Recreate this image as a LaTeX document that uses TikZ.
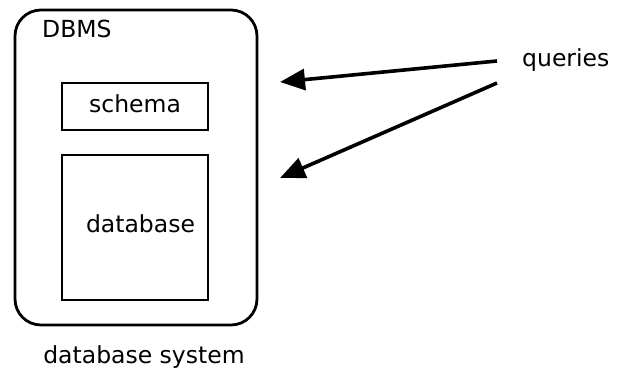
\documentclass[tikz,border=0pt]{standalone}
\usepackage{fontspec}
\setmainfont{DejaVu Sans}
\usetikzlibrary{arrows.meta}

\begin{document}
\begin{tikzpicture}[x=1pt,y=-1pt,
		label/.style={font=\fontsize{23.5}{28}\selectfont, inner sep=0pt},
		store/.style={draw, line width=2.4pt, minimum width=146pt},
		query/.style={line width=3.6pt, -{Triangle[length=25pt,width=21pt]}}]
		\useasboundingbox[fill=white] (0,0) rectangle (619,382) ;
\par
\node[draw, line width=2.8pt, rounded corners=26pt, minimum width=242pt, minimum height=315pt] (dbms) at (136,167.5) {} ;
		\node[label, anchor=base west] (dbmstext) at (42,38) {DBMS} ;
		\node[store, minimum height=47pt] (schema) at (135,106.5) {} ;
		\node[store, minimum height=145pt] (db) at (135,227.5) {} ;
		\node[label, anchor=base] (schematext) at (135,113) {schema} ;
		\node[label, anchor=base] (dbtext) at (140.5,233) {database} ;
\par
\node[label, anchor=base west] (queries) at (522,67) {queries} ;
		\coordinate (q1) at (497,61) ;
		\coordinate (q2) at (497,83) ;
		\coordinate (t1) at (280,82) ;
		\coordinate (t2) at (280,178) ;
		\draw[query] (q1) -- (t1) ;
		\draw[query] (q2) -- (t2) ;
\par
\node[label, anchor=base] (system) at (144,363) {database system} ;
	\end{tikzpicture}
\end{document}
